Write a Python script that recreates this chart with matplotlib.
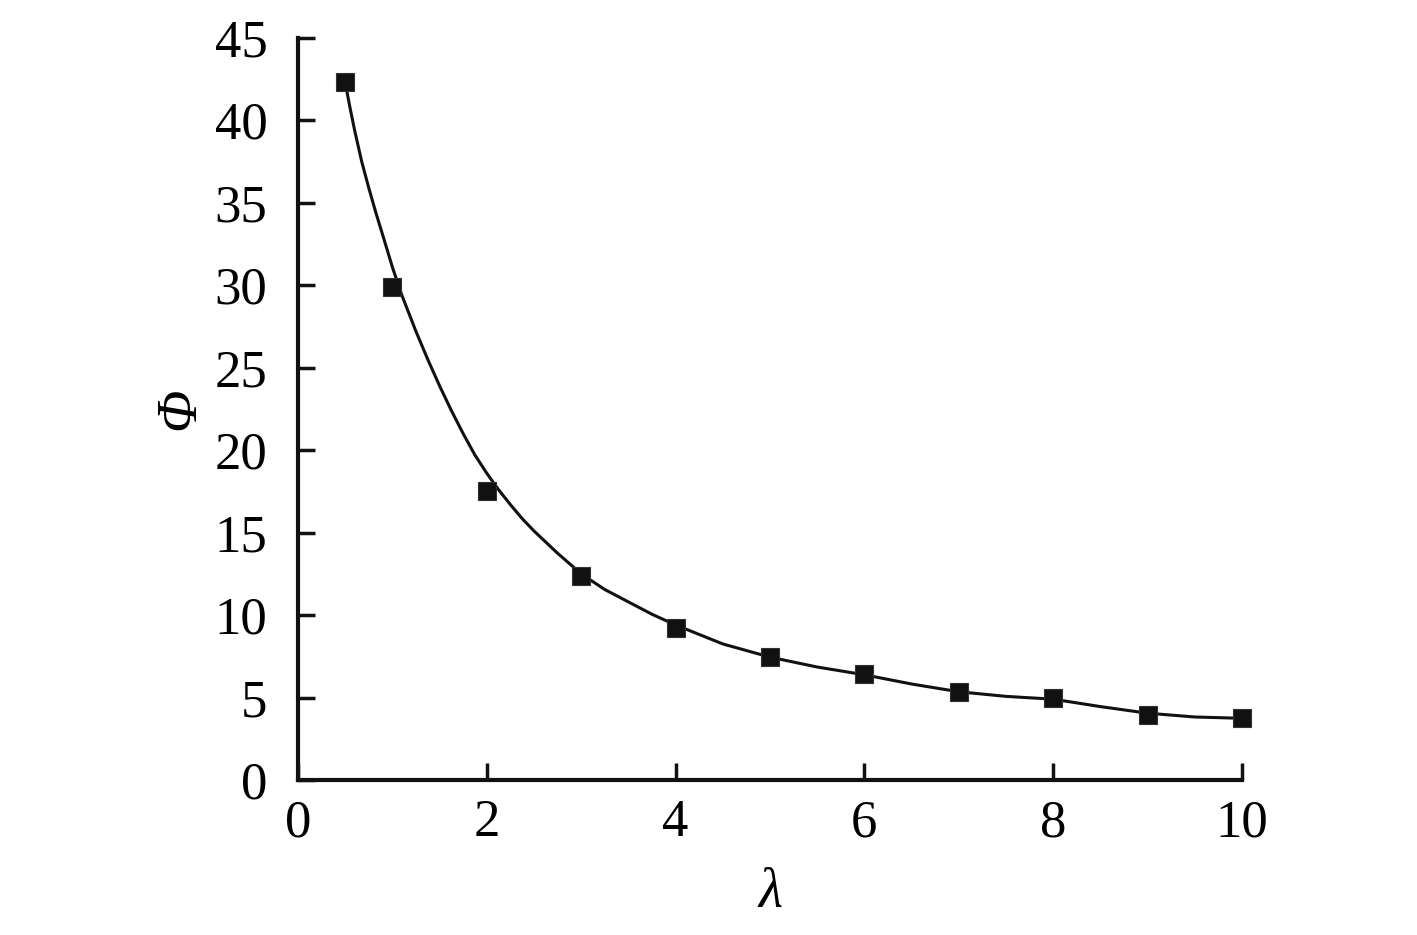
import matplotlib
matplotlib.use("Agg")
import matplotlib.pyplot as plt

# measured points
lam = [0.5, 1, 2, 3, 4, 5, 6, 7, 8, 9, 10]
phi = [42.3, 29.9, 17.5, 12.4, 9.2, 7.45, 6.43, 5.33, 4.97, 3.95, 3.76]

# fitted curve
curve_lam = [0.5, 0.55, 0.6, 0.675, 0.75, 0.825, 0.9, 1.0, 1.1, 1.25, 1.375,
             1.5, 1.625, 1.75, 1.875, 2.0, 2.125, 2.25, 2.375, 2.5, 2.75, 3.0,
             3.25, 3.5, 3.75, 4.0, 4.5, 5.0, 5.5, 6.0, 6.5, 7.0, 7.5, 8.0,
             8.5, 9.0, 9.5, 10.0]
curve_phi = [42.3, 40.8, 39.4, 37.5, 35.9, 34.4, 33.0, 31.1, 29.4, 27.2, 25.5,
             23.9, 22.4, 21.0, 19.7, 18.6, 17.6, 16.7, 15.85, 15.1, 13.75, 12.5,
             11.55, 10.8, 10.05, 9.4, 8.25, 7.45, 6.85, 6.38, 5.82, 5.35, 5.07,
             4.9, 4.45, 4.05, 3.82, 3.74]

plt.rcParams['font.family'] = ['Liberation Serif', 'DejaVu Serif']

fig = plt.figure(figsize=(14.17, 9.35), dpi=100)
ax = fig.add_axes([0.2103, 0.1658, 0.8765 - 0.2103, 0.9594 - 0.1658])

ax.plot(curve_lam, curve_phi, color='#111111', lw=2.2, zorder=2,
        solid_joinstyle='round')
ax.plot(lam, phi, linestyle='none', marker='s', ms=13.5, color='#111111',
        markeredgecolor='#333333', markeredgewidth=0.8, zorder=3, clip_on=False)

ax.set_xlim(0, 10)
ax.set_ylim(0, 45)
ax.set_xticks(range(0, 11, 2))
ax.set_yticks(range(0, 46, 5))

for s in ['top', 'right']:
    ax.spines[s].set_visible(False)
for s in ['left', 'bottom']:
    ax.spines[s].set_linewidth(3)
    ax.spines[s].set_color('#111111')

ax.tick_params(axis='both', direction='in', length=12, width=2.5,
               color='#111111', labelsize=38)
ax.tick_params(axis='y', pad=22)
ax.tick_params(axis='x', pad=14)

ax.set_xlabel('λ', fontsize=40, style='italic', labelpad=14)
ax.set_ylabel('Φ', fontsize=40, style='italic', labelpad=6)

fig.savefig('out.png', dpi=100)
